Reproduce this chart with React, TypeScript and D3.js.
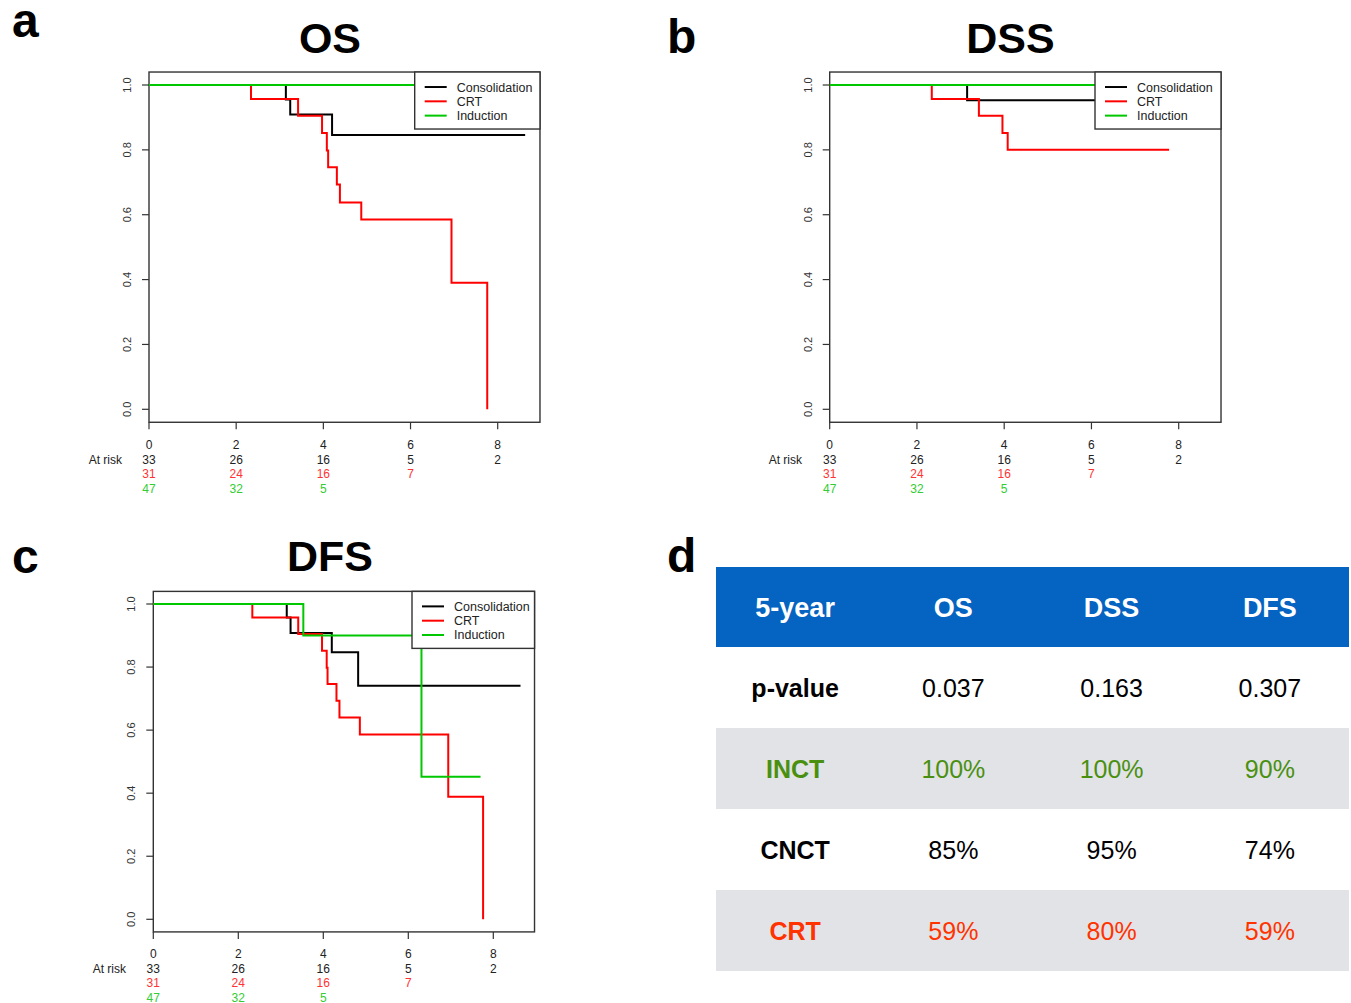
import React from "react";
import * as d3 from "d3";

// ---------- DATA ----------
const seriesNames = ["Consolidation", "CRT", "Induction"];
const seriesColors = ["#000000", "#ff0000", "#00c800"];
const riskColors = ["#222222", "#ff3333", "#33cc33"];

const timeTicks = [0, 2, 4, 6, 8];
const survTicks = [0, 0.2, 0.4, 0.6, 0.8, 1.0];

// Kaplan-Meier step events: [time (years), survival after drop]
const osConsolidation = [[3.14, 0.955], [3.24, 0.909], [4.2, 0.846]];
const osConsolidationEnd = 8.63;
const osCRT = [[2.34, 0.957], [3.42, 0.905], [3.97, 0.852], [4.08, 0.798], [4.11, 0.746], [4.31, 0.693], [4.38, 0.638], [4.87, 0.585], [6.94, 0.39], [7.76, 0.0]];
const osCRTEnd = 7.76;
const osInduction: number[][] = [];
const osInductionEnd = 8.6;

const dssConsolidation = [[3.15, 0.953]];
const dssConsolidationEnd = 8.63;
const dssCRT = [[2.34, 0.957], [3.42, 0.905], [3.96, 0.852], [4.08, 0.8]];
const dssCRTEnd = 7.78;
const dssInduction: number[][] = [];
const dssInductionEnd = 8.6;

const dfsConsolidation = [[3.14, 0.957], [3.23, 0.908], [4.2, 0.847], [4.82, 0.741]];
const dfsConsolidationEnd = 8.64;
const dfsCRT = [[2.33, 0.957], [3.41, 0.905], [3.97, 0.852], [4.08, 0.798], [4.1, 0.746], [4.31, 0.693], [4.38, 0.64], [4.86, 0.586], [6.94, 0.389], [7.76, 0.0]];
const dfsCRTEnd = 7.76;
const dfsInduction = [[3.53, 0.9], [6.31, 0.452]];
const dfsInductionEnd = 7.7;

// numbers at risk at times 0,2,4,6,8
const riskConsolidation = ["33", "26", "16", "5", "2"];
const riskCRT = ["31", "24", "16", "7", ""];
const riskInduction = ["47", "32", "5", "", ""];

// table
const tableHeaders = ["5-year", "OS", "DSS", "DFS"];
const rowLabels = ["p-value", "INCT", "CNCT", "CRT"];
const pValues = ["0.037", "0.163", "0.307"];
const inctValues = ["100%", "100%", "90%"];
const cnctValues = ["85%", "95%", "74%"];
const crtValues = ["59%", "80%", "59%"];

// ---------- LAYOUT ----------
const FONT = "'Liberation Sans', Arial, Helvetica, sans-serif";

type PanelCfg = {
  letter: string; letterX: number; letterY: number;
  title: string; titleX: number; titleY: number;
  x0: number; x8: number; y0: number; y1: number;
  legendLeft: number; riskY: number; riskLabelRight: number;
  series: { events: number[][]; end: number }[];
};

const panels: PanelCfg[] = [
  {
    letter: "a", letterX: 12, letterY: 37, title: "OS", titleX: 330, titleY: 53,
    x0: 149, x8: 497.7, y0: 409.3, y1: 85, legendLeft: 414.7, riskY: 449, riskLabelRight: 122,
    series: [
      { events: osConsolidation, end: osConsolidationEnd },
      { events: osCRT, end: osCRTEnd },
      { events: osInduction, end: osInductionEnd },
    ],
  },
  {
    letter: "b", letterX: 667, letterY: 53, title: "DSS", titleX: 1010.5, titleY: 53,
    x0: 829.7, x8: 1178.7, y0: 409.3, y1: 85, legendLeft: 1095, riskY: 449, riskLabelRight: 802,
    series: [
      { events: dssConsolidation, end: dssConsolidationEnd },
      { events: dssCRT, end: dssCRTEnd },
      { events: dssInduction, end: dssInductionEnd },
    ],
  },
  {
    letter: "c", letterX: 12, letterY: 573, title: "DFS", titleX: 330, titleY: 571,
    x0: 153.3, x8: 493.3, y0: 919.3, y1: 604, legendLeft: 412, riskY: 958, riskLabelRight: 126,
    series: [
      { events: dfsConsolidation, end: dfsConsolidationEnd },
      { events: dfsCRT, end: dfsCRTEnd },
      { events: dfsInduction, end: dfsInductionEnd },
    ],
  },
];

const riskRows = [riskConsolidation, riskCRT, riskInduction];

function KMPanel({ cfg }: { cfg: PanelCfg }) {
  const xs = d3.scaleLinear().domain([0, 8]).range([cfg.x0, cfg.x8]);
  const ys = d3.scaleLinear().domain([0, 1]).range([cfg.y0, cfg.y1]);
  const left = xs(0), right = xs(8.97), top = ys(1.04), bottom = ys(-0.04);
  const line = d3.line<number[]>().x((d) => xs(d[0])).y((d) => ys(d[1])).curve(d3.curveStepAfter);
  const legendH = 57;
  const riskDy = 14.5;
  return (
    <g>
      <text x={cfg.letterX} y={cfg.letterY} fontSize={48} fontWeight="bold" fontFamily={FONT}>{cfg.letter}</text>
      <text x={cfg.titleX} y={cfg.titleY} fontSize={43} fontWeight="bold" fontFamily={FONT} textAnchor="middle">{cfg.title}</text>
      <rect x={left} y={top} width={right - left} height={bottom - top} fill="white" stroke="#333" strokeWidth={1.4} />
      {survTicks.map((t) => (
        <g key={"y" + t}>
          <line x1={left - 7} x2={left} y1={ys(t)} y2={ys(t)} stroke="#333" strokeWidth={1.2} />
          <text transform={`translate(${left - 18},${ys(t)}) rotate(-90)`} fontSize={11} fontFamily={FONT} textAnchor="middle" fill="#333">{t.toFixed(1)}</text>
        </g>
      ))}
      {timeTicks.map((t) => (
        <line key={"x" + t} x1={xs(t)} x2={xs(t)} y1={bottom} y2={bottom + 7} stroke="#333" strokeWidth={1.2} />
      ))}
      {cfg.series.map((s, i) => {
        const pts = [[0, 1], ...s.events];
        const last = pts[pts.length - 1];
        pts.push([s.end, last[1]]);
        return <path key={i} d={line(pts) || ""} fill="none" stroke={seriesColors[i]} strokeWidth={2} />;
      })}
      <rect x={cfg.legendLeft} y={top} width={right - cfg.legendLeft} height={legendH} fill="white" stroke="#333" strokeWidth={1.4} />
      {seriesNames.map((n, i) => (
        <g key={n}>
          <line x1={cfg.legendLeft + 10} x2={cfg.legendLeft + 32} y1={top + 15 + i * 14.3} y2={top + 15 + i * 14.3} stroke={seriesColors[i]} strokeWidth={2} />
          <text x={cfg.legendLeft + 42} y={top + 19.5 + i * 14.3} fontSize={12.5} fontFamily={FONT} fill="#222">{n}</text>
        </g>
      ))}
      {/* at-risk table */}
      {timeTicks.map((t) => (
        <text key={"rt" + t} x={xs(t)} y={cfg.riskY} fontSize={12} fontFamily={FONT} textAnchor="middle" fill="#222">{t}</text>
      ))}
      <text x={cfg.riskLabelRight} y={cfg.riskY + riskDy} fontSize={12} fontFamily={FONT} textAnchor="end" fill="#222">At risk</text>
      {riskRows.map((row, r) =>
        row.map((v, j) => (
          <text key={"r" + r + "_" + j} x={xs(timeTicks[j])} y={cfg.riskY + riskDy * (r + 1)} fontSize={12} fontFamily={FONT} textAnchor="middle" fill={riskColors[r]}>{v}</text>
        ))
      )}
    </g>
  );
}

function SummaryTable() {
  const tx = d3.scaleBand<number>().domain([0, 1, 2, 3]).range([716, 1349]);
  const rowTop = 567, headerH = 80, rowH = 81;
  const rows = [pValues, inctValues, cnctValues, crtValues];
  const rowColors = ["#000000", "#4a9010", "#000000", "#ff3300"];
  const rowFills = ["#ffffff", "#e2e3e7", "#ffffff", "#e2e3e7"];
  const cx = (i: number) => (tx(i) as number) + tx.bandwidth() / 2;
  return (
    <g fontFamily={FONT}>
      <text x={667} y={572} fontSize={48} fontWeight="bold">d</text>
      <rect x={716} y={rowTop} width={633} height={headerH} fill="#0563c1" />
      {tableHeaders.map((h, i) => (
        <text key={h} x={cx(i)} y={rowTop + headerH / 2 + 9.5} fontSize={27} fontWeight="bold" fill="white" textAnchor="middle">{h}</text>
      ))}
      {rows.map((vals, r) => {
        const y = rowTop + headerH + r * rowH;
        return (
          <g key={r}>
            <rect x={716} y={y} width={633} height={rowH} fill={rowFills[r]} />
            <text x={cx(0)} y={y + rowH / 2 + 9} fontSize={25} fontWeight="bold" fill={rowColors[r]} textAnchor="middle">{rowLabels[r]}</text>
            {vals.map((v, j) => (
              <text key={j} x={cx(j + 1)} y={y + rowH / 2 + 9} fontSize={25} fill={rowColors[r]} textAnchor="middle">{v}</text>
            ))}
          </g>
        );
      })}
    </g>
  );
}

export default function App() {
  return (
    <svg width={1351} height={1003} style={{ position: "absolute", left: 0, top: 0, background: "white" }}>
      <rect x={0} y={0} width={1351} height={1003} fill="white" />
      {panels.map((p) => <KMPanel key={p.letter} cfg={p} />)}
      <SummaryTable />
    </svg>
  );
}
